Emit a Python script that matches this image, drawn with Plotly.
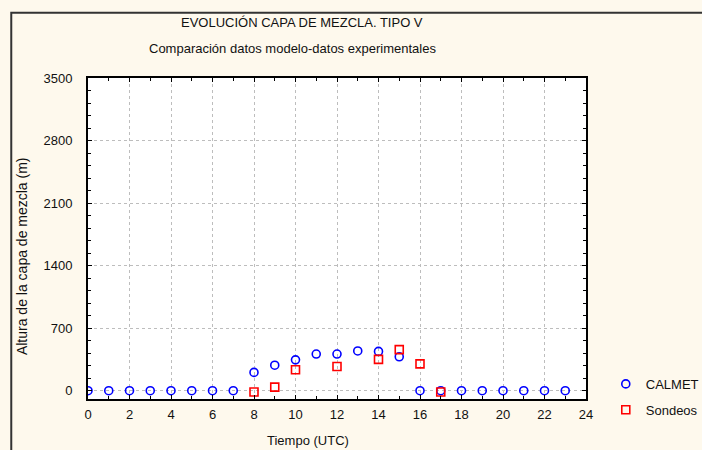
import plotly.graph_objects as go

# ---- data ----
calmet_hours = list(range(24))
calmet_vals = [0, 0, 0, 0, 0, 0, 0, 0, 205, 285, 345, 410, 410, 445, 440, 380,
               0, 0, 0, 0, 0, 0, 0, 0]
sondeos_hours = [8, 9, 10, 12, 14, 15, 16, 17]
sondeos_vals = [-15, 40, 235, 270, 350, 460, 300, -15]

x_ticks = list(range(0, 25, 2))
y_ticks = [0, 700, 1400, 2100, 2800, 3500]

title_text = "EVOLUCIÓN CAPA DE MEZCLA. TIPO V"
subtitle_text = "Comparación datos modelo-datos experimentales"
x_title = "Tiempo (UTC)"
y_title = "Altura de la capa de mezcla (m)"

W, H = 702, 450
L, R, T, B = 87.8, 586.2, 78.3, 399.0
pw, ph = R - L, B - T


def px(xp):
    return (xp - L) / pw


def py(yp):
    return (B - yp) / ph


FONT = "Liberation Sans, Arial, sans-serif"
TXT = "#111111"
BG = "#FEF9ED"

fig = go.Figure()
fig.add_trace(go.Scatter(
    x=calmet_hours, y=calmet_vals, mode="markers", name="CALMET",
    legendgroup="a",
    marker=dict(symbol="circle-open", size=8, color="#0000FF",
                line=dict(width=1.6, color="#0000FF")),
))
fig.add_trace(go.Scatter(
    x=sondeos_hours, y=sondeos_vals, mode="markers", name="Sondeos",
    legendgroup="b",
    marker=dict(symbol="square-open", size=8, color="#FF0000",
                line=dict(width=1.6, color="#FF0000")),
))

axis_common = dict(
    showline=True, linewidth=2, linecolor="#000000", mirror="allticks",
    ticks="inside", ticklen=4, tickwidth=1.2, tickcolor="#000000",
    showgrid=True, gridcolor="#BDBDBD", griddash="dot", gridwidth=1,
    zeroline=False,
    tickfont=dict(family=FONT, size=13, color=TXT),
)

fig.update_xaxes(
    range=[0, 24], tickmode="array", tickvals=x_ticks,
    ticktext=[str(v) for v in x_ticks],
    minor=dict(dtick=1, tick0=0, ticks="inside", ticklen=3, tickcolor="#000000",
               showgrid=False),
    ticklabelstandoff=2, automargin=False,
    **axis_common,
)
fig.update_yaxes(
    range=[-93, 3500], tickmode="array", tickvals=y_ticks,
    ticktext=[str(v) for v in y_ticks],
    minor=dict(dtick=140, tick0=0, ticks="inside", ticklen=3, tickcolor="#000000",
               showgrid=False),
    ticklabelstandoff=11, automargin=False,
    **axis_common,
)

annotations = [
    dict(text=title_text, x=px(301.5), y=py(23), xref="paper", yref="paper",
         showarrow=False, xanchor="center", yanchor="middle",
         font=dict(family=FONT, size=13, color=TXT)),
    dict(text=subtitle_text, x=px(292.5), y=py(49), xref="paper", yref="paper",
         showarrow=False, xanchor="center", yanchor="middle",
         font=dict(family=FONT, size=13, color=TXT)),
    dict(text=x_title, x=px(308), y=py(440), xref="paper", yref="paper",
         showarrow=False, xanchor="center", yanchor="middle",
         font=dict(family=FONT, size=13, color=TXT)),
    dict(text=y_title, x=px(22), y=py(256), xref="paper", yref="paper",
         showarrow=False, xanchor="center", yanchor="middle", textangle=-90,
         font=dict(family=FONT, size=14, color=TXT)),
]

shapes = [
    dict(type="rect", xref="paper", yref="paper",
         x0=px(11), x1=px(720), y0=py(470), y1=py(13),
         line=dict(color="#333333", width=2), fillcolor="rgba(0,0,0,0)",
         layer="below"),
]

fig.update_layout(
    width=W, height=H,
    margin=dict(l=L, r=W - R, t=T, b=H - B, pad=0, autoexpand=False),
    paper_bgcolor=BG, plot_bgcolor="#FFFFFF",
    showlegend=True,
    legend=dict(x=px(606), y=py(369), xanchor="left", yanchor="top",
                bgcolor="rgba(0,0,0,0)", borderwidth=0,
                traceorder="grouped", tracegroupgap=6,
                font=dict(family=FONT, size=13, color=TXT)),
    annotations=annotations,
    shapes=shapes,
)

fig.write_html(
    "out.html",
    config={"displayModeBar": False},
    post_script="document.body.style.margin='0';document.body.style.padding='0';"
                "document.body.style.background='" + BG + "';",
)
